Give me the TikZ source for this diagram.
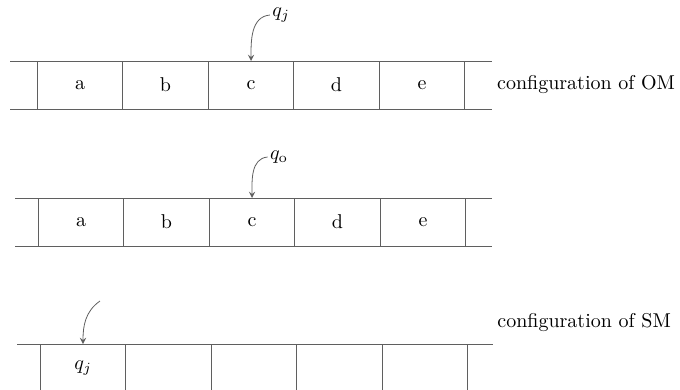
\documentclass[tikz,border=0pt]{standalone}
\usepackage{xcolor}
\usepackage{tikz}
\usetikzlibrary{arrows, positioning}
\definecolor{tapegray}{RGB}{95,95,95}

\begin{document}
\begin{tikzpicture}[
    x=0.5pt, y=-0.5pt,
    cell/.style={rectangle, draw=tapegray, minimum width=42.75pt, minimum height=24pt, inner sep=0pt, outer sep=0pt},
    tape/.style={draw=tapegray},
    arrow/.style={-stealth, tapegray},
    conf/.style={anchor=west, inner sep=0pt}
]
    \useasboundingbox (0,0) rectangle (680,390);
    % configuration of OM
    \foreach \lab [count=\i] in {a,b,c,d,e}
        \node [cell] (om\i) at (80+85.5*\i-85.5, 85) {\lab};
    \draw [tape] (om1.north west) -- ++(-27,0);
    \draw [tape] (om1.south west) -- ++(-27,0);
    \draw [tape] (om5.north east) -- ++(27,0);
    \draw [tape] (om5.south east) -- ++(27,0);
    \node [conf, right=16pt of om5] (omtext) {configuration of OM};
    \node [inner sep=1pt] (headom) at (281,15) {$q_j$};
    \draw [arrow] (headom.west) to[out=185, in=90] (om3.north);

    % middle tape
    \foreach \lab [count=\i] in {a,b,c,d,e}
        \node [cell] (mid\i) at (81+85.5*\i-85.5, 222) {\lab};
    \draw [tape] (mid1.north west) -- ++(-23,0);
    \draw [tape] (mid1.south west) -- ++(-23,0);
    \draw [tape] (mid5.north east) -- ++(26,0);
    \draw [tape] (mid5.south east) -- ++(26,0);
    \node [inner sep=1pt] (headmid) at (279,157) {$q_{\mathrm{o}}$};
    \draw [arrow] (headmid.west) to[out=185, in=90] (mid3.north);

    % configuration of SM
    \foreach \lab [count=\i] in {$q_j$,,,,}
        \node [cell] (sm\i) at (83+85.5*\i-85.5, 368) {\lab};
    \draw [tape] (sm1.north west) -- ++(-23,0);
    \draw [tape] (sm5.north east) -- ++(25,0);
    \node [conf] (smtext) at (497,323) {configuration of SM};
    \coordinate (smtail) at (100,301);
    \draw [arrow] (smtail) to[out=215, in=90] (sm1.north);
\end{tikzpicture}
\end{document}
